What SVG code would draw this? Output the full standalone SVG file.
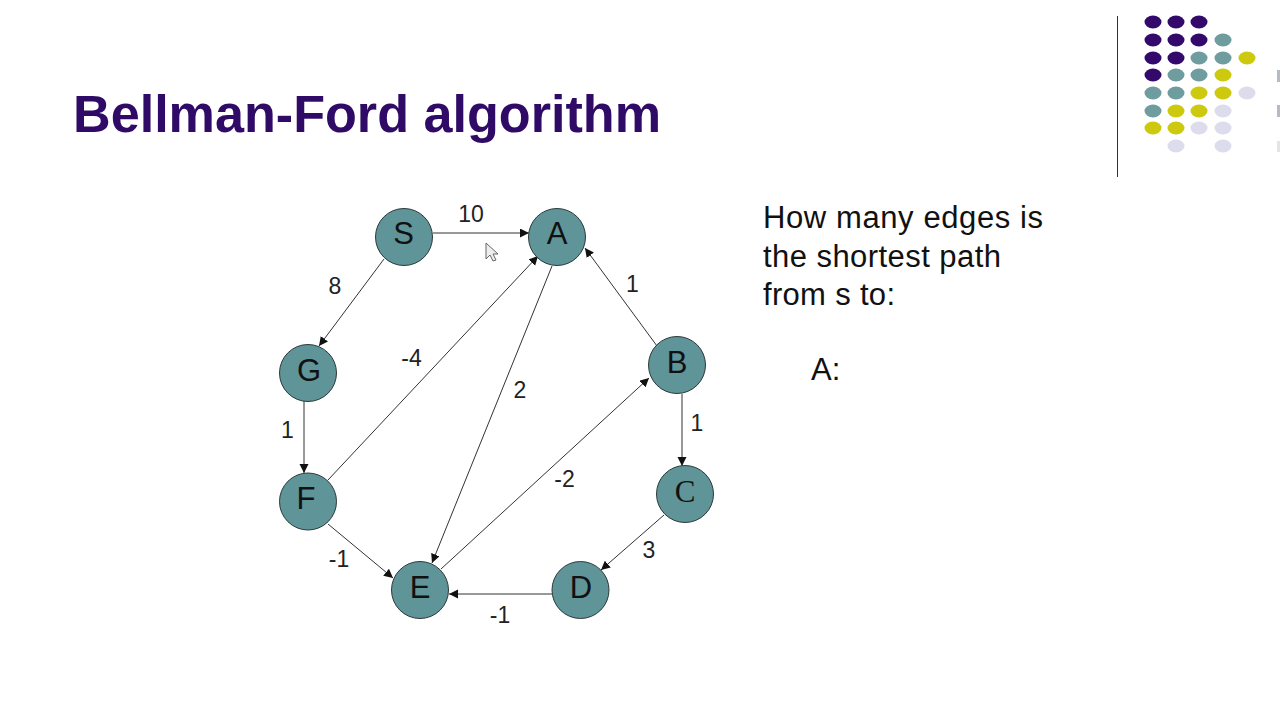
<svg xmlns="http://www.w3.org/2000/svg" width="1280" height="720" viewBox="0 0 1280 720">
<style>
.n{fill:#5f9498;stroke:#2b3a3a;stroke-width:1}
.nt{font-family:"Liberation Sans",Arial,sans-serif;font-size:31px;fill:#111;text-anchor:middle}
.w{font-family:"Liberation Sans",Arial,sans-serif;font-size:23px;fill:#222;text-anchor:middle}
.b{font-family:"Liberation Sans",Arial,sans-serif;font-size:31px;fill:#111}
.e{stroke:#333;stroke-width:1;fill:none;marker-end:url(#a)}
.p{fill:#330a6b}.t{fill:#6f9c9f}.y{fill:#cdc90e}.l{fill:#dcdcec}
</style>
<defs><marker id="a" markerUnits="userSpaceOnUse" markerWidth="10" markerHeight="10" refX="9" refY="4.5" orient="auto"><path d="M0 0L9 4.5L0 9Z" fill="#111"/></marker></defs>
<rect width="1280" height="720" fill="#fff"/>
<text x="73" y="132" font-family="'Liberation Sans',Arial,sans-serif" font-size="51" font-weight="700" fill="#2f0a66" textLength="588" lengthAdjust="spacingAndGlyphs">Bellman-Ford algorithm</text>
<g id="decor">
<rect x="1117" y="16" width="1" height="161" fill="#333"/>
<g class="p"><ellipse cx="1153" cy="22" rx="8.5" ry="6.5"/><ellipse cx="1176" cy="22" rx="8.5" ry="6.5"/><ellipse cx="1199" cy="22" rx="8.5" ry="6.5"/><ellipse cx="1153" cy="40" rx="8.5" ry="6.5"/><ellipse cx="1176" cy="40" rx="8.5" ry="6.5"/><ellipse cx="1199" cy="40" rx="8.5" ry="6.5"/><ellipse cx="1153" cy="58" rx="8.5" ry="6.5"/><ellipse cx="1176" cy="58" rx="8.5" ry="6.5"/><ellipse cx="1153" cy="75" rx="8.5" ry="6.5"/></g>
<g class="t"><ellipse cx="1223" cy="40" rx="8.5" ry="6.5"/><ellipse cx="1199" cy="58" rx="8.5" ry="6.5"/><ellipse cx="1223" cy="58" rx="8.5" ry="6.5"/><ellipse cx="1176" cy="75" rx="8.5" ry="6.5"/><ellipse cx="1199" cy="75" rx="8.5" ry="6.5"/><ellipse cx="1153" cy="93" rx="8.5" ry="6.5"/><ellipse cx="1176" cy="93" rx="8.5" ry="6.5"/><ellipse cx="1153" cy="111" rx="8.5" ry="6.5"/></g>
<g class="y"><ellipse cx="1247" cy="58" rx="8.5" ry="6.5"/><ellipse cx="1223" cy="75" rx="8.5" ry="6.5"/><ellipse cx="1199" cy="93" rx="8.5" ry="6.5"/><ellipse cx="1223" cy="93" rx="8.5" ry="6.5"/><ellipse cx="1176" cy="111" rx="8.5" ry="6.5"/><ellipse cx="1199" cy="111" rx="8.5" ry="6.5"/><ellipse cx="1153" cy="128" rx="8.5" ry="6.5"/><ellipse cx="1176" cy="128" rx="8.5" ry="6.5"/></g>
<g class="l"><ellipse cx="1247" cy="93" rx="8.5" ry="6.5"/><ellipse cx="1223" cy="111" rx="8.5" ry="6.5"/><ellipse cx="1199" cy="128" rx="8.5" ry="6.5"/><ellipse cx="1223" cy="128" rx="8.5" ry="6.5"/><ellipse cx="1176" cy="146" rx="8.5" ry="6.5"/><ellipse cx="1223" cy="146" rx="8.5" ry="6.5"/></g>
<rect x="1277" y="70" width="3" height="12" fill="#b4bac6"/><rect x="1277" y="105" width="3" height="12" fill="#b4bac6"/><rect x="1277" y="141" width="3" height="11" fill="#e4e4e4"/>
</g>
<g id="connectors">
<path class="e" d="M433 233H529"/>
<path class="e" d="M384 259L319 346"/>
<path class="e" d="M304 401V473"/>
<path class="e" d="M328 480L538 256"/>
<path class="e" d="M552 266L432 563"/>
<path class="e" d="M657 346L585 248"/>
<path class="e" d="M441 569L649 378"/>
<path class="e" d="M682 394V466"/>
<path class="e" d="M664 515L601 570"/>
<path class="e" d="M552 594H449"/>
<path class="e" d="M328 524L393 578"/>
</g>
<g id="node-S"><circle class="n" cx="404" cy="237" r="28.5"/><text class="nt" x="403.500" y="244">S</text></g>
<g id="node-A"><circle class="n" cx="557" cy="237" r="28.500"/><text class="nt" x="557" y="244">A</text></g>
<g id="node-B"><circle class="n" cx="677" cy="365" r="28.500"/><text class="nt" x="677" y="373">B</text></g>
<g id="node-C"><circle class="n" cx="685" cy="494" r="28.500"/><text x="685" y="502" font-family="'Liberation Serif','Times New Roman',serif" font-size="31" fill="#111" text-anchor="middle">C</text></g>
<g id="node-D"><circle class="n" cx="580.500" cy="590" r="28.500"/><text class="nt" x="581" y="598">D</text></g>
<g id="node-E"><circle class="n" cx="420" cy="590" r="28.500"/><text class="nt" x="420" y="598">E</text></g>
<g id="node-F"><circle class="n" cx="308" cy="501.500" r="28.500"/><text class="nt" x="306" y="509">F</text></g>
<g id="node-G"><circle class="n" cx="308" cy="373" r="28.500"/><text class="nt" x="309" y="381">G</text></g>
<g id="labels">
<text class="w" x="471" y="222">10</text><text class="w" x="335" y="294">8</text><text class="w" x="411.500" y="366">-4</text><text class="w" x="520" y="398">2</text><text class="w" x="632.500" y="292">1</text><text class="w" x="697" y="431">1</text><text class="w" x="287.500" y="438">1</text><text class="w" x="564.500" y="487">-2</text><text class="w" x="649" y="558">3</text><text class="w" x="339" y="567">-1</text><text class="w" x="500" y="623">-1</text>
</g>
<g id="text"><text class="b" x="763" y="228" textLength="280">How many edges is</text><text class="b" x="763" y="267" textLength="238">the shortest path</text><text class="b" x="763" y="305" textLength="132">from s to:</text><text class="b" x="811" y="380">A:</text></g>
<path id="cursor" d="M486 243V259L490 255L493 261L496 260L493 254L498 254Z" fill="#eee" stroke="#666" stroke-width="1"/>
</svg>
